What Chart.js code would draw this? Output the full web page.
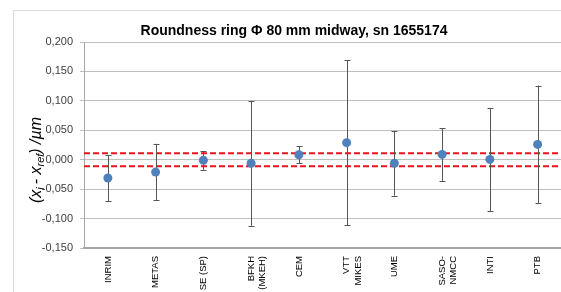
<!DOCTYPE html>
<html>
<head>
<meta charset="utf-8">
<script src="https://cdn.jsdelivr.net/npm/chart.js@4"></script>
<style>
  html, body { margin: 0; padding: 0; background: #fff; overflow: hidden; }
  #wrap { width: 566px; height: 292px; }
</style>
</head>
<body>
<div id="wrap"><canvas id="chart" width="566" height="292"></canvas></div>
<script>
// labs and their results
const labs = ["INRIM", "METAS", "SE (SP)", ["BFKH", "(MKEH)"], "CEM",
  ["VTT", "MIKES"], "UME", ["SASO-", "NMCC"], "INTI", "PTB"];
const deviations = [-0.031, -0.021, -0.001, -0.006, 0.0085, 0.029, -0.006, 0.009, 0.0005, 0.026];
const uncertainties = [0.039, 0.048, 0.016, 0.106, 0.014, 0.14, 0.055, 0.045, 0.0875, 0.1];
const refBand = [0.011, -0.011];
const yTicks = [-0.15, -0.1, -0.05, 0, 0.05, 0.1, 0.15, 0.2];

const fmt = (v) => {
  const s = Math.abs(v).toFixed(3).replace(".", ",");
  return (v < -1e-9 ? "-" : "") + s;
};

// outer frame + title + y title
const decor = {
  id: "decor",
  beforeDraw(chart) {
    const ctx = chart.ctx;
    ctx.save();
    ctx.strokeStyle = "#d9d9d9";
    ctx.lineWidth = 1;
    ctx.strokeRect(13.5, 10.5, 700, 400);
    ctx.restore();
  },
  afterDraw(chart) {
    const ctx = chart.ctx;
    ctx.save();
    ctx.fillStyle = "#000";
    ctx.font = "bold 14px 'Liberation Sans'";
    ctx.textAlign = "center";
    ctx.textBaseline = "middle";
    ctx.fillText("Roundness ring \u03a6 80 mm midway, sn 1655174", 294, 31);

    // (x_i - x_ref) /µm, rotated
    const big = "italic 16px 'Liberation Sans'";
    const small = "italic 11px 'Liberation Sans'";
    const parts = [
      ["(x", big, 0], ["i ", small, 4], ["- x", big, 0], ["ref", small, 4], [") /\u00b5m", big, 0]
    ];
    let total = 0;
    parts.forEach((p) => { ctx.font = p[1]; total += ctx.measureText(p[0]).width; });
    ctx.translate(37, 160);
    ctx.rotate(-Math.PI / 2);
    ctx.textAlign = "left";
    ctx.textBaseline = "middle";
    let x = -total / 2;
    parts.forEach((p) => {
      ctx.font = p[1];
      ctx.fillText(p[0], x, p[2]);
      x += ctx.measureText(p[0]).width;
    });
    ctx.restore();
  }
};

// error bars and reference band
const bars = {
  id: "bars",
  beforeDatasetsDraw(chart) {
    const { ctx, chartArea, scales } = chart;
    const xs = scales.x, ys = scales.y;
    ctx.save();
    ctx.strokeStyle = "#e8141c";
    ctx.lineWidth = 2;
    ctx.setLineDash([6, 3]);
    refBand.forEach((v) => {
      const y = ys.getPixelForValue(v);
      ctx.beginPath();
      ctx.moveTo(chartArea.left, y);
      ctx.lineTo(chartArea.right, y);
      ctx.stroke();
    });
    ctx.setLineDash([]);
    ctx.strokeStyle = "#555";
    ctx.lineWidth = 1;
    deviations.forEach((v, i) => {
      const x = Math.round(xs.getPixelForValue(i)) + 0.5;
      const top = ys.getPixelForValue(v + uncertainties[i]);
      const bot = ys.getPixelForValue(v - uncertainties[i]);
      ctx.beginPath();
      ctx.moveTo(x, top); ctx.lineTo(x, bot);
      ctx.moveTo(x - 3, Math.round(top) + 0.5); ctx.lineTo(x + 3, Math.round(top) + 0.5);
      ctx.moveTo(x - 3, Math.round(bot) + 0.5); ctx.lineTo(x + 3, Math.round(bot) + 0.5);
      ctx.stroke();
    });
    ctx.restore();
  }
};

new Chart(document.getElementById("chart"), {
  type: "line",
  data: {
    labels: labs,
    datasets: [{
      data: deviations,
      showLine: false,
      pointRadius: 4.5,
      pointBackgroundColor: "#4f81bd",
      pointBorderColor: "#4f81bd",
      pointBorderWidth: 0
    }]
  },
  options: {
    responsive: false,
    animation: false,
    layout: { padding: { top: 42, right: 2, left: 0, bottom: 0 } },
    plugins: { legend: { display: false }, tooltip: { enabled: false } },
    scales: {
      x: {
        offset: true,
        grid: { display: false, drawTicks: false },
        border: { color: "#a6a6a6", width: 2 },
        ticks: {
          minRotation: 90, maxRotation: 90, autoSkip: false, padding: 8,
          color: "#000", font: { family: "Liberation Sans", size: 9.5 }
        },
        afterFit(s) { s.height = 44; }
      },
      y: {
        min: -0.15, max: 0.2,
        afterBuildTicks(s) { s.ticks = yTicks.map((v) => ({ value: v })); },
        grid: { color: "#bfbfbf", tickLength: 4, drawTicks: true },
        border: { color: "#a6a6a6" },
        ticks: {
          padding: 7, color: "#404040",
          font: { family: "Liberation Sans", size: 11 },
          callback: (v) => fmt(v)
        },
        afterFit(s) { s.width = 84; }
      }
    }
  },
  plugins: [decor, bars]
});
</script>
</body>
</html>
